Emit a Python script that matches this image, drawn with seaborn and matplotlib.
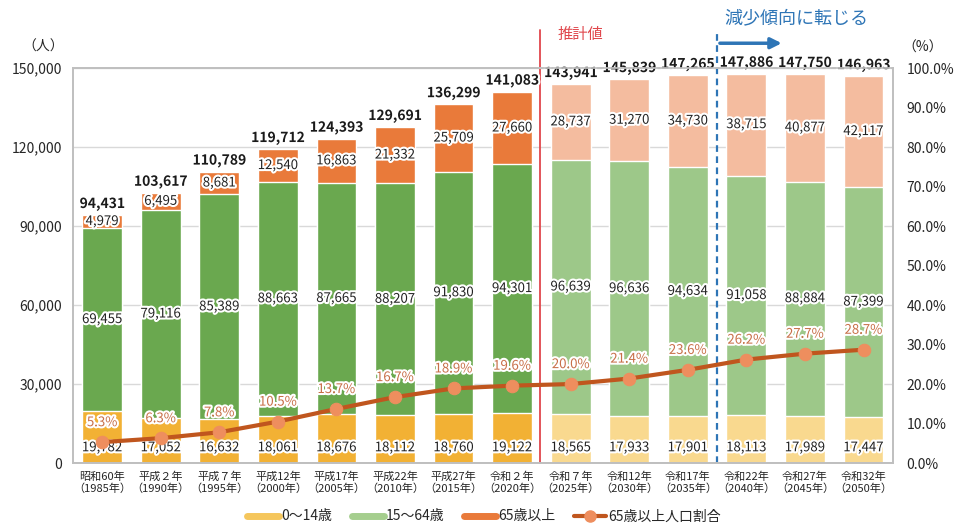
import matplotlib
matplotlib.use("Agg")
import matplotlib.pyplot as plt
import matplotlib.patheffects as pe
from matplotlib.lines import Line2D
import numpy as np
import pandas as pd
import seaborn as sns

labels = ["昭和60年\n（1985年）", "平成２年\n（1990年）", "平成７年\n（1995年）", "平成12年\n（2000年）",
          "平成17年\n（2005年）", "平成22年\n（2010年）", "平成27年\n（2015年）", "令和２年\n（2020年）",
          "令和７年\n（2025年）", "令和12年\n（2030年）", "令和17年\n（2035年）", "令和22年\n（2040年）",
          "令和27年\n（2045年）", "令和32年\n（2050年）"]
age0_14 = [19782, 17052, 16632, 18061, 18676, 18112, 18760, 19122, 18565, 17933, 17901, 18113, 17989, 17447]
age15_64 = [69455, 79116, 85389, 88663, 87665, 88207, 91830, 94301, 96639, 96636, 94634, 91058, 88884, 87399]
age65 = [4979, 6495, 8681, 12540, 16863, 21332, 25709, 27660, 28737, 31270, 34730, 38715, 40877, 42117]
totals = [94431, 103617, 110789, 119712, 124393, 129691, 136299, 141083, 143941, 145839, 147265, 147886, 147750, 146963]
ratio65 = [5.3, 6.3, 7.8, 10.5, 13.7, 16.7, 18.9, 19.6, 20.0, 21.4, 23.6, 26.2, 27.7, 28.7]
n_actual = 8  # 令和2年までが実績、以降は推計値

sns.set_theme(style="white")
plt.rcParams['font.family'] = ['Noto Sans CJK JP', 'DejaVu Sans']

df = pd.DataFrame({"label": labels, "young": age0_14, "work": age15_64, "old": age65})
df["lvl2"] = df["young"] + df["work"]
df["lvl3"] = df["lvl2"] + df["old"]
proj = [i >= n_actual for i in range(len(labels))]

c_young = ["#F9D98F" if p else "#F2B134" for p in proj]
c_work = ["#9DC889" if p else "#6AA84F" for p in proj]
c_old = ["#F4BC9F" if p else "#E97A3A" for p in proj]
line_c = "#C0561E"
mark_c = "#EE8E5E"
pct_c = "#C86F48"
grid_c = "#D9D9D9"
red_c = "#E0474C"
blue_c = "#2E75B6"

fig = plt.figure(figsize=(9.59, 5.28), dpi=100)
ax = fig.add_axes([0.076, 0.123, 0.855, 0.748])

bw = 0.68
sns.barplot(data=df, x="label", y="lvl3", hue="label", palette=c_old, legend=False,
            width=bw, saturation=1, errorbar=None, ax=ax)
sns.barplot(data=df, x="label", y="lvl2", hue="label", palette=c_work, legend=False,
            width=bw, saturation=1, errorbar=None, ax=ax)
sns.barplot(data=df, x="label", y="young", hue="label", palette=c_young, legend=False,
            width=bw, saturation=1, errorbar=None, ax=ax)

ax.set_xlim(-0.5, 13.5)
ax.set_ylim(0, 150000)
ax.set_yticks(range(0, 150001, 30000))
ax.set_yticklabels([f"{v:,}" for v in range(0, 150001, 30000)], fontsize=10)
ax.tick_params(axis="x", labelsize=8, length=0, pad=6)
ax.tick_params(axis="y", length=0, pad=8)
ax.set_xlabel("")
ax.set_ylabel("")
ax.yaxis.grid(True, color=grid_c, lw=1)
ax.set_axisbelow(True)
for s in ax.spines.values():
    s.set_color("#BFBFBF")

halo = [pe.withStroke(linewidth=3, foreground="white")]
for i in range(len(labels)):
    ax.text(i, df["lvl3"][i] + 1500, f"{totals[i]:,}", ha="center", va="bottom",
            fontsize=10, fontweight="bold", color="#1a1a1a", path_effects=halo)
    ax.text(i, df["lvl2"][i] + age65[i] / 2, f"{age65[i]:,}", ha="center", va="center",
            fontsize=9.5, color="#222222", path_effects=halo)
    ax.text(i, age0_14[i] + age15_64[i] / 2, f"{age15_64[i]:,}", ha="center", va="center",
            fontsize=9.5, color="#222222", path_effects=halo)
    ax.text(i, 5800, f"{age0_14[i]:,}", ha="center", va="center",
            fontsize=9.5, color="#222222", path_effects=halo)

ax2 = ax.twinx()
xs = np.arange(len(labels))
sns.lineplot(x=xs, y=ratio65, ax=ax2, color=line_c, lw=3, marker="o", markersize=9,
             markerfacecolor=mark_c, markeredgecolor=mark_c)
ax2.set_ylim(0, 100)
ax2.set_yticks(range(0, 101, 10))
ax2.set_yticklabels([f"{v:.1f}%" for v in range(0, 101, 10)], fontsize=10)
ax2.tick_params(axis="y", length=0, pad=10)
ax2.set_ylabel("")
for s in ax2.spines.values():
    s.set_color("#BFBFBF")
for i, r in enumerate(ratio65):
    ax2.annotate(f"{r:.1f}%", (i, r), xytext=(0, 14), textcoords="offset points",
                 ha="center", va="center", fontsize=9.5, color=pct_c, path_effects=halo)

# 推計値の区切りと減少傾向
trans = ax.get_xaxis_transform()
ax.plot([7.47, 7.47], [0, 1.096], transform=trans, color=red_c, lw=1.3, clip_on=False)
ax.text(8.17, 1.084, "推計値", transform=trans, ha="center", va="center",
        fontsize=11, color=red_c)
ax.plot([10.5, 10.5], [0, 1.09], transform=trans, color=blue_c, lw=1.6, ls=(0, (3, 2)),
        clip_on=False)
ax.annotate("", xy=(11.65, 1.063), xytext=(10.5, 1.063), xycoords=trans, textcoords=trans,
            arrowprops=dict(arrowstyle="-|>", color=blue_c, lw=2.5, mutation_scale=16))
ax.text(11.86, 1.127, "減少傾向に転じる", transform=trans, ha="center", va="center",
        fontsize=13, color=blue_c)

fig.text(0.045, 0.911, "（人）", ha="center", va="center", fontsize=10)
fig.text(0.962, 0.909, "（%）", ha="center", va="center", fontsize=10)

handles = [Line2D([], [], color="#F5C65C", lw=5),
           Line2D([], [], color="#A5CE8E", lw=5),
           Line2D([], [], color="#E97A3A", lw=5),
           Line2D([], [], color=line_c, lw=3, marker="o", markersize=8,
                  markerfacecolor=mark_c, markeredgecolor=mark_c)]
fig.legend(handles, ["0～14歳", "15～64歳", "65歳以上", "65歳以上人口割合"],
           loc="center", bbox_to_anchor=(0.505, 0.022), ncol=4, frameon=False,
           fontsize=10, handlelength=2.3, handletextpad=0.15, columnspacing=1.4)

fig.savefig("out.png", dpi=100)
